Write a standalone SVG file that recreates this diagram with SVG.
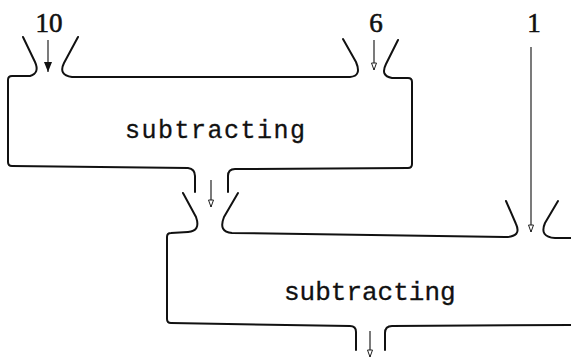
<svg xmlns="http://www.w3.org/2000/svg" width="571" height="359" viewBox="0 0 571 359">
<style>
.box{fill:none;stroke:#111;stroke-width:2;stroke-linecap:round;stroke-linejoin:round}
.wire{fill:none;stroke:#222;stroke-width:1.2}
.num{font-family:"Liberation Serif",serif;font-size:27px;fill:#111;stroke:#111;stroke-width:0.6;text-anchor:middle}
.lbl{font-family:"Liberation Mono","DejaVu Sans Mono",monospace;fill:#111;stroke:#111;stroke-width:0.3}
</style>
<defs>
<marker id="open" markerUnits="userSpaceOnUse" markerWidth="8" markerHeight="10" refX="3" refY="8" orient="0" viewBox="0 0 6 10">
<path d="M0.5,1 L5.5,1 L3,8 Z" fill="#fff" stroke="#222" stroke-width="1"/>
</marker>
<marker id="solid" markerUnits="userSpaceOnUse" markerWidth="10" markerHeight="12" refX="4" refY="11" orient="0" viewBox="0 0 8 12">
<path d="M0,1 L8,1 L4,11 Z" fill="#111"/>
</marker>
</defs>
<rect width="571" height="359" fill="#fff"/>
<g id="node-10"><text class="num" x="49" y="32">10</text></g>
<g id="node-6"><text class="num" x="376" y="32">6</text></g>
<g id="node-1"><text class="num" x="534" y="32">1</text></g>
<g id="node-subtract-1">
<path class="box" d="M23,37 L35,62 Q40,73 30,76 L12,76 Q8,76 8,80 L8,162 Q8,166 12,166 L188,168 Q195,169 195,176 L195,192"/>
<path class="box" d="M228,192 L228,176 Q228,169 235,169 L408,168 Q412,168 412,164 L412,82 Q412,78 408,78 L392,78 Q380,76 386,64 L398,40"/>
<path class="box" d="M343,39 L356,62 Q362,76 350,77 L72,77 Q58,75 64,63 L78,37"/>
<text class="lbl" x="125" y="138" font-size="25" letter-spacing="1.5">subtracting</text>
</g>
<g id="node-subtract-2">
<path class="box" d="M183,193 L196,217 Q201,231 188,232 L171,233 Q167,233 167,237 L167,319 Q167,323 171,323 L350,326 Q356,326 356,332 L356,350"/>
<path class="box" d="M385,350 L385,333 Q385,326 392,326 L571,325"/>
<path class="box" d="M238,193 L224,217 Q218,232 232,233 L505,237 Q522,237 516,224 L506,201"/>
<path class="box" d="M558,201 L545,223 Q539,237 555,238 L571,238"/>
<text class="lbl" x="284" y="300" font-size="26">subtracting</text>
</g>
<g id="connectors">
<path class="wire" d="M48,40 L48,72" marker-end="url(#solid)"/>
<path class="wire" d="M374,40 L374,70" marker-end="url(#open)"/>
<path class="wire" d="M531,47 L531,232" marker-end="url(#open)"/>
<path class="wire" d="M211,180 L211,207" marker-end="url(#open)"/>
<path class="wire" d="M370,331 L370,357" marker-end="url(#open)"/>
</g>
</svg>
